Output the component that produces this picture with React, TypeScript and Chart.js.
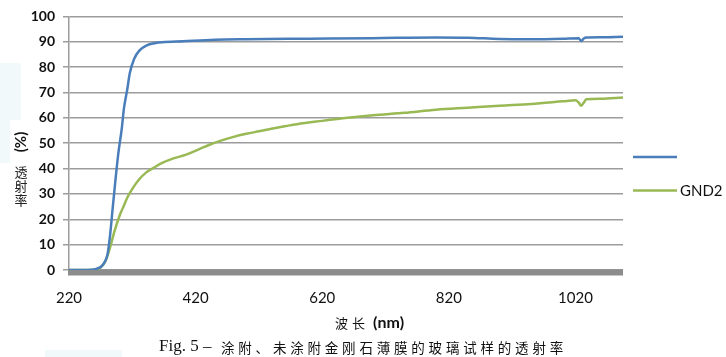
import React, { useEffect, useRef } from "react";
import { Chart, registerables } from "chart.js";

Chart.register(...registerables);

// ---- data ----
const blueLabel = "";
const blueNm = [220, 250, 260, 265, 273, 281, 285, 289, 293, 298, 303, 307, 312, 316, 323, 331, 342, 357, 367, 400, 450, 500, 600, 700, 800, 850, 900, 950, 1000, 1025, 1029, 1033, 1037, 1060, 1095];
const blueT = [0, 0, 0.2, 0.6, 1.9, 6.4, 14, 24.4, 34.6, 46.2, 55.1, 64.1, 71.2, 77.6, 83.3, 86.5, 88.5, 89.5, 89.8, 90.2, 90.8, 91, 91.2, 91.4, 91.7, 91.6, 91.1, 91.0, 91.2, 91.4, 90.3, 91.3, 91.7, 91.8, 92];

const greenLabel = "GND2";
const greenNm = [220, 250, 265, 270, 278, 285, 292, 300, 305, 312, 320, 330, 342, 355, 368, 385, 405, 425, 442, 460, 480, 500, 520, 550, 580, 620, 660, 700, 750, 800, 850, 900, 950, 1000, 1020, 1025, 1029, 1033, 1037, 1060, 1095];
const greenT = [0, 0, 0.3, 1, 3.8, 9, 15.4, 21.5, 24.4, 28.5, 32, 35.5, 38.5, 40.5, 42.3, 44, 45.5, 47.6, 49.4, 51, 52.5, 53.7, 54.7, 56.2, 57.5, 58.8, 60, 61, 62, 63.2, 64, 64.8, 65.5, 66.5, 66.9, 66.0, 64.8, 66, 67.3, 67.5, 68];

const xTicks = [220, 420, 620, 820, 1020];
const xMin = 220;
const xMax = 1095;
const yMin = 0;
const yMax = 100;
const yStep = 10;

const yTitleUnit = "(%)";
const yTitleChars = ["透", "射", "率"];

const BLUE = "#4a7ebb";
const GREEN = "#98b954";

const axisBarPlugin = {
  id: "axisBar",
  beforeDatasetsDraw(chart: any) {
    const { ctx, chartArea } = chart;
    ctx.save();
    ctx.fillStyle = "#8c8c8c";
    ctx.fillRect(chartArea.left - 1, chartArea.bottom - 0.5, chartArea.right - chartArea.left + 1, 6);
    ctx.restore();
  },
};

const yTitlePlugin = {
  id: "yTitle",
  afterDraw(chart: any) {
    const { ctx } = chart;
    ctx.save();
    ctx.fillStyle = "#111";
    ctx.textAlign = "center";
    ctx.textBaseline = "middle";
    ctx.translate(21, 142);
    ctx.rotate(-Math.PI / 2);
    ctx.font = "bold 15px Lato";
    ctx.fillText(yTitleUnit, 0, 0);
    ctx.restore();
    ctx.save();
    ctx.fillStyle = "#222";
    ctx.textAlign = "center";
    ctx.textBaseline = "middle";
    ctx.font = "13px 'Noto Sans CJK SC'";
    yTitleChars.forEach((c, i) => {
      ctx.fillText(c, 21, 172 + i * 14);
    });
    ctx.restore();
  },
};

const sideLegendPlugin = {
  id: "sideLegend",
  afterDraw(chart: any) {
    const { ctx } = chart;
    ctx.save();
    chart.data.datasets.forEach((ds: any, i: number) => {
      const y = 157 + i * 33.5;
      ctx.strokeStyle = ds.borderColor;
      ctx.lineWidth = 2.5;
      ctx.beginPath();
      ctx.moveTo(633, y);
      ctx.lineTo(677, y);
      ctx.stroke();
      ctx.fillStyle = "#111";
      ctx.font = "15px Lato";
      ctx.textBaseline = "middle";
      ctx.fillText(ds.label, 680, y + 1);
    });
    ctx.restore();
  },
};

export default function App() {
  const ref = useRef<HTMLCanvasElement | null>(null);

  useEffect(() => {
    document.body.style.margin = "0";
    const canvas = ref.current;
    if (!canvas) return;
    const chart = new Chart(canvas, {
      type: "line",
      data: {
        datasets: [
          {
            label: blueLabel,
            data: blueNm.map((x, i) => ({ x, y: blueT[i] })),
            borderColor: BLUE,
            borderWidth: 2.5,
            pointRadius: 0,
            cubicInterpolationMode: "monotone",
            fill: false,
          },
          {
            label: greenLabel,
            data: greenNm.map((x, i) => ({ x, y: greenT[i] })),
            borderColor: GREEN,
            borderWidth: 2.5,
            pointRadius: 0,
            cubicInterpolationMode: "monotone",
            fill: false,
          },
        ],
      },
      options: {
        responsive: false,
        animation: false,
        layout: { padding: { top: 10, right: 103, left: 0, bottom: 0 } },
        plugins: { legend: { display: false }, tooltip: { enabled: false } },
        scales: {
          x: {
            type: "linear",
            min: xMin,
            max: xMax,
            grid: { display: false, drawTicks: false },
            border: { display: false },
            afterBuildTicks: (scale: any) => {
              scale.ticks = xTicks.map((v) => ({ value: v }));
            },
            afterFit: (scale: any) => {
              scale.height = 87;
            },
            ticks: {
              padding: 19,
              color: "#111",
              font: { family: "Lato", size: 15 },
              maxRotation: 0,
              callback: (v: any) => String(v),
            },
          },
          y: {
            min: yMin,
            max: yMax,
            afterFit: (scale: any) => {
              scale.width = 69;
            },
            grid: { color: "#9c9c9c", lineWidth: 1.5, tickLength: 6, drawTicks: true },
            border: { display: true, color: "#9c9c9c", width: 1.5 },
            ticks: {
              stepSize: yStep,
              padding: 8,
              color: "#111",
              font: { family: "Lato", size: 14, weight: "bold" },
            },
          },
        },
      },
      plugins: [axisBarPlugin, yTitlePlugin, sideLegendPlugin],
    } as any);
    return () => chart.destroy();
  }, []);

  return (
    <div style={{ position: "relative", width: 726, height: 357, background: "#fff", overflow: "hidden" }}>
      <div style={{ position: "absolute", left: 0, top: 63, width: 21, height: 57, background: "#f1f9fb" }} />
      <div style={{ position: "absolute", left: 0, top: 120, width: 10, height: 43, background: "#f1f9fb" }} />
      <div style={{ position: "absolute", left: 45, top: 350, width: 77, height: 7, background: "#f1f9fb" }} />
      <canvas ref={ref} width={726} height={357} style={{ position: "absolute", left: 0, top: 0 }} />
      <div
        style={{
          position: "absolute",
          left: 335,
          top: 312,
          whiteSpace: "nowrap",
          color: "#111",
          lineHeight: "20px",
        }}
      >
        <span style={{ fontFamily: "'Noto Sans CJK SC'", fontSize: 13, letterSpacing: 4 }}>波长</span>
        <span style={{ fontFamily: "Lato", fontWeight: "bold", fontSize: 16, marginLeft: 4 }}>(nm)</span>
      </div>
      <div
        style={{
          position: "absolute",
          left: 159,
          top: 336,
          whiteSpace: "nowrap",
          color: "#111",
          lineHeight: "20px",
          fontFamily: "'Liberation Serif'",
          fontSize: 17,
        }}
      >
        Fig. 5 –
      </div>
      <div
        style={{
          position: "absolute",
          left: 221,
          top: 337,
          whiteSpace: "nowrap",
          color: "#111",
          lineHeight: "20px",
          fontFamily: "'Noto Sans CJK SC'",
          fontSize: 13.5,
          letterSpacing: 3.8,
        }}
      >
        涂附、未涂附金刚石薄膜的玻璃试样的透射率
      </div>
    </div>
  );
}
